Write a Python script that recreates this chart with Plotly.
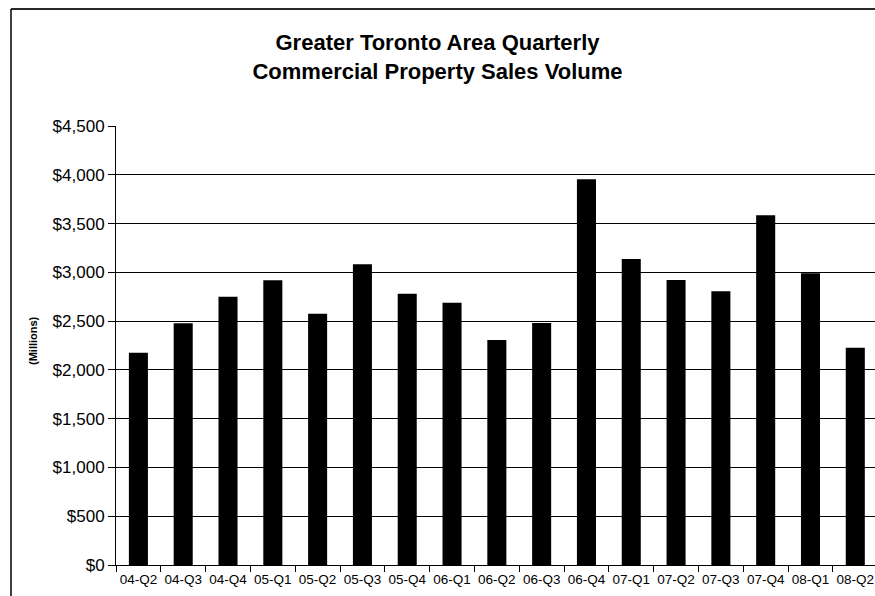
import plotly.graph_objects as go

quarters = ["04-Q2", "04-Q3", "04-Q4", "05-Q1", "05-Q2", "05-Q3", "05-Q4", "06-Q1", "06-Q2",
            "06-Q3", "06-Q4", "07-Q1", "07-Q2", "07-Q3", "07-Q4", "08-Q1", "08-Q2"]
sales_millions = [2176, 2477, 2750, 2918, 2576, 3082, 2781, 2689, 2306,
                  2480, 3953, 3136, 2921, 2805, 3584, 2990, 2228]
y_ticks = [0, 500, 1000, 1500, 2000, 2500, 3000, 3500, 4000, 4500]
y_tick_labels = ["$" + f"{v:,}" for v in y_ticks]

W, H = 875, 596
L, R, T, B = 116, 0, 126, 31
pw = W - L - R
ph = H - T - B

FONT = "Liberation Sans, Arial, sans-serif"

fig = go.Figure(go.Bar(
    x=quarters, y=sales_millions,
    marker=dict(color="#000000", line=dict(width=0)),
    hoverinfo="x+y",
))

fig.update_layout(
    width=W, height=H,
    margin=dict(l=L, r=R, t=T, b=B, pad=0),
    paper_bgcolor="white", plot_bgcolor="white",
    bargap=0.575,
    showlegend=False,
    font=dict(family=FONT, color="#000000"),
    title=dict(
        text="<b>Greater Toronto Area Quarterly<br>Commercial Property Sales Volume</b>",
        font=dict(family=FONT, size=22, color="#000000"),
        x=0.5, xref="container", xanchor="center",
        y=1 - 50 / H, yref="container", yanchor="top",
    ),
    xaxis=dict(
        type="category",
        range=[-0.5, 16.44],
        showline=True, linecolor="#000000", linewidth=1,
        ticks="outside", ticklen=6, tickcolor="#000000", tickwidth=1,
        tickson="boundaries", tickangle=0, ticklabelstandoff=2,
        showgrid=False, zeroline=False,
        tickfont=dict(family=FONT, size=13.5, color="#000000"),
        fixedrange=True,
    ),
    yaxis=dict(
        range=[0, 4500],
        tickmode="array", tickvals=y_ticks, ticktext=y_tick_labels,
        showline=True, linecolor="#000000", linewidth=1,
        ticks="outside", ticklen=7, tickcolor="#000000", tickwidth=1,
        showgrid=True, gridcolor="#000000", gridwidth=1,
        zeroline=False,
        tickfont=dict(family=FONT, size=17, color="#000000"),
        fixedrange=True,
    ),
    annotations=[dict(
        text="<b>(Millions)</b>", textangle=-90,
        xref="paper", yref="paper",
        x=(33 - L) / pw, y=(565 - 341) / ph,
        xanchor="center", yanchor="middle",
        showarrow=False,
        font=dict(family=FONT, size=11, color="#000000"),
    )],
    shapes=[
        dict(type="line", xref="paper", yref="paper",
             x0=(11 - L) / pw, x1=1.05, y0=(565 - 9) / ph, y1=(565 - 9) / ph,
             line=dict(color="#2a2a2a", width=2)),
        dict(type="line", xref="paper", yref="paper",
             x0=(11 - L) / pw, x1=(11 - L) / pw, y0=(565 - 9) / ph, y1=-0.2,
             line=dict(color="#000000", width=1.5)),
    ],
)

fig.write_html("out.html")
